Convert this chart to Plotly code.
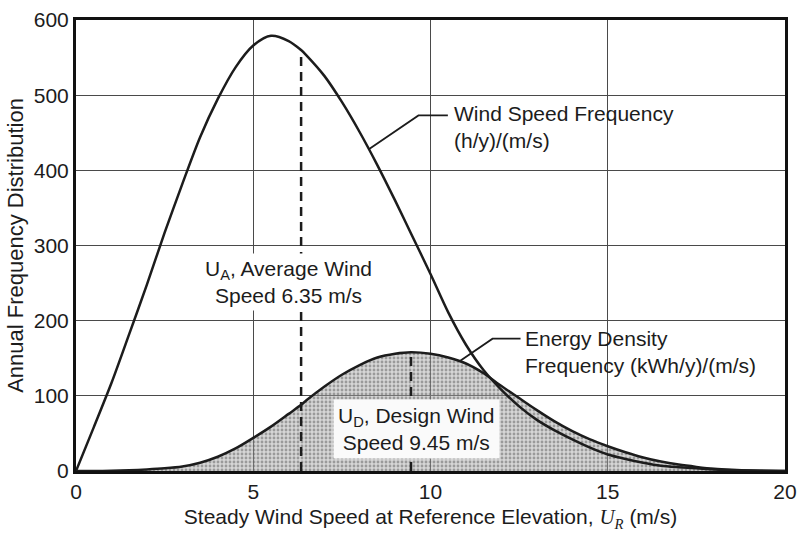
import numpy as np
import plotly.graph_objects as go

# Wind speed (m/s) sample points
speed = [0, 0.5, 1, 1.5, 2, 2.5, 3, 3.5, 4, 4.5, 5, 5.5, 6, 6.35, 6.5, 7, 7.5, 8,
         8.5, 9, 9.45, 10, 10.5, 11, 11.5, 12, 12.5, 13, 13.5, 14, 14.5, 15,
         15.5, 16, 16.5, 17, 17.5, 18, 18.5, 19, 20]

# Wind speed frequency, (h/y)/(m/s)
wind_freq = [0, 58, 117, 182, 248, 317, 382, 444, 495, 537, 566, 579, 572, 560,
             553, 526, 491, 451, 407, 360, 316, 262, 211, 168, 134, 108, 86, 68,
             54, 42, 31, 22, 16, 11, 7, 5, 3.5, 2, 1, 0.5, 0]

# Energy density frequency, (kWh/y)/(m/s)
energy_freq = [0, 0, 0.3, 1, 2, 3.5, 6, 11, 19, 30, 44, 59, 76, 88, 94, 112, 128,
               141, 151, 156, 158, 156, 151, 143, 130, 113, 97, 81, 66, 53, 42,
               33, 25, 18, 12.5, 8.5, 5.5, 3, 1.5, 0.5, 0]

avg_speed = 6.35      # U_A
design_speed = 9.45   # U_D

x_ticks = [0, 5, 10, 15, 20]
y_ticks = [0, 100, 200, 300, 400, 500, 600]

FONT = "Liberation Sans, Arial, sans-serif"
INK = "#1c1c1c"
FS = 21


def on_curve(u, series):
    return float(np.interp(u, speed, series))


fig = go.Figure()

# shaded energy density area
fig.add_trace(go.Scatter(
    x=speed, y=energy_freq, mode="lines", fill="tozeroy",
    line=dict(color=INK, width=2.5, shape="spline", smoothing=0.8),
    fillcolor="rgba(160,160,160,0.5)",
    fillpattern=dict(shape=".", fgcolor="#5e5e5e", bgcolor="rgba(165,165,165,0.45)",
                     size=4, solidity=0.4),
    hoverinfo="skip", showlegend=False))

# wind speed frequency curve
fig.add_trace(go.Scatter(
    x=speed, y=wind_freq, mode="lines",
    line=dict(color=INK, width=2.5, shape="spline", smoothing=0.8),
    hoverinfo="skip", showlegend=False))

# vertical dashed markers for U_A and U_D
for u, series in ((avg_speed, wind_freq), (design_speed, energy_freq)):
    fig.add_trace(go.Scatter(
        x=[u, u], y=[0, on_curve(u, series)], mode="lines",
        line=dict(color=INK, width=2.5, dash="9px,6px"),
        hoverinfo="skip", showlegend=False))

# leader lines to the curve labels
leaders = [
    ([8.26, 9.66, 10.49], wind_freq, 473),
    ([10.82, 11.75, 12.54], energy_freq, 176),
]
for xs, series, y_label in leaders:
    fig.add_trace(go.Scatter(
        x=xs, y=[on_curve(xs[0], series), y_label, y_label], mode="lines",
        line=dict(color=INK, width=1.8),
        hoverinfo="skip", showlegend=False))

text_font = dict(family=FONT, size=FS, color=INK)

fig.add_annotation(
    x=10.6, y=457, xanchor="left", yanchor="middle", align="left",
    text="Wind Speed Frequency<br>(h/y)/(m/s)", showarrow=False, font=text_font)
fig.add_annotation(
    x=12.62, y=158, xanchor="left", yanchor="middle", align="left",
    text="Energy Density<br>Frequency (kWh/y)/(m/s)", showarrow=False, font=text_font)
fig.add_annotation(
    x=6.0, y=252, xanchor="center", yanchor="middle", align="center",
    text="U<sub>A</sub>, Average Wind<br>Speed 6.35 m/s", showarrow=False,
    font=text_font, bgcolor="white", borderpad=3)
fig.add_annotation(
    x=9.6, y=56, xanchor="center", yanchor="middle", align="center",
    text="U<sub>D</sub>, Design Wind<br>Speed 9.45 m/s", showarrow=False,
    font=text_font, bgcolor="rgba(250,250,250,1)", borderpad=4)

axis_common = dict(
    showline=True, linecolor="#111", linewidth=3, mirror=True,
    showgrid=True, gridcolor="#4a4a4a", gridwidth=1,
    zeroline=False, ticks="", ticklabeloverflow="allow",
    tickfont=dict(family=FONT, size=FS, color=INK),
)

fig.update_xaxes(
    range=[0, 20], tickvals=x_ticks, **axis_common,
    title=dict(
        text="Steady Wind Speed at Reference Elevation, "
             "<span style=\"font-family:'Liberation Serif', serif\"><i>U<sub>R</sub></i></span> (m/s)",
        font=dict(family=FONT, size=FS, color=INK), standoff=8))
fig.update_yaxes(
    range=[0, 600], tickvals=y_ticks, **axis_common,
    title=dict(text="Annual Frequency Distribution",
               font=dict(family=FONT, size=22, color=INK), standoff=5))

fig.update_layout(
    width=805, height=543,
    margin=dict(l=76, r=13, t=8, b=72),
    paper_bgcolor="white", plot_bgcolor="white",
    showlegend=False,
)

fig.write_html("out.html")
